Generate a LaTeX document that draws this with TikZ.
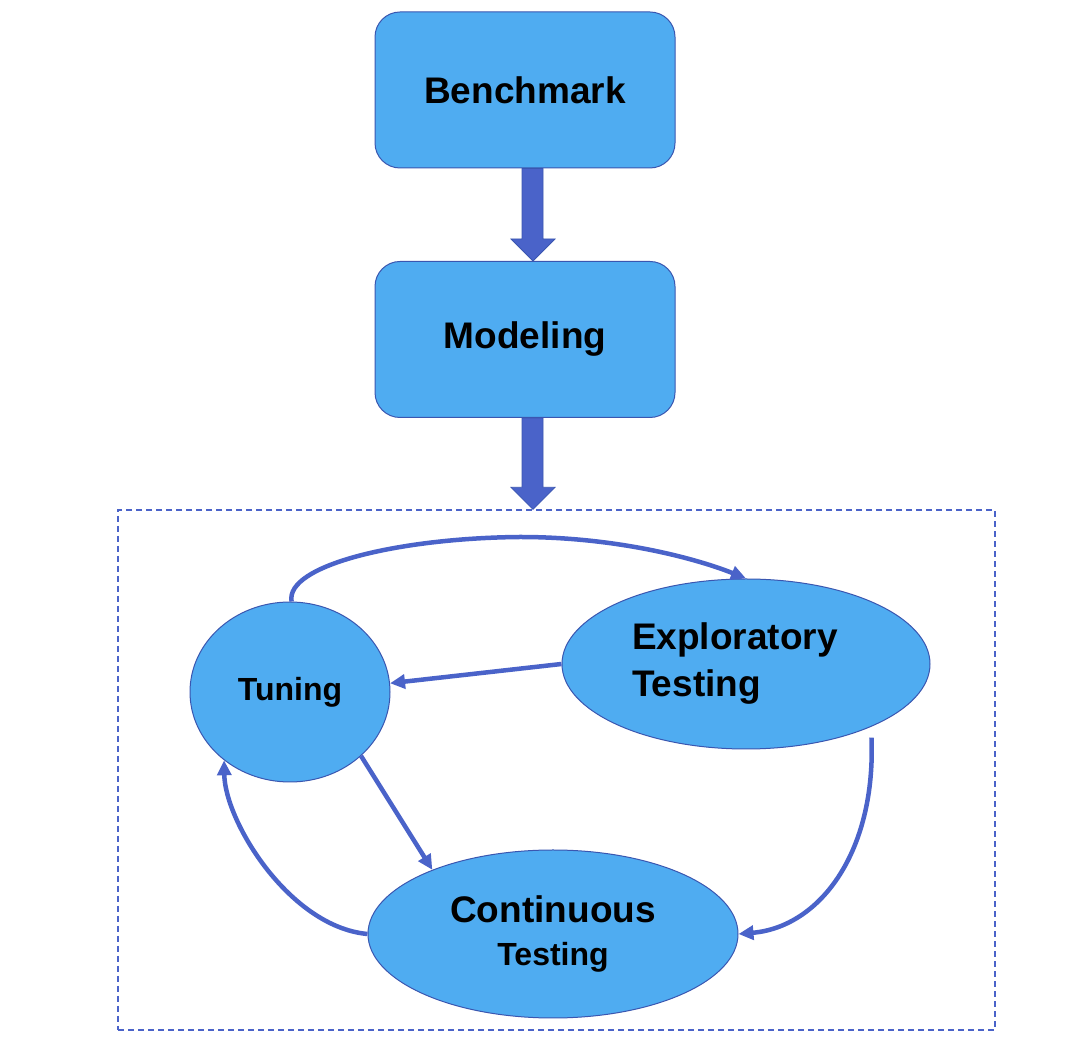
\documentclass[tikz,border=0pt]{standalone}
\usepackage{fontspec}
\setmainfont{Liberation Sans}
\usetikzlibrary{shapes.geometric,arrows.meta,calc}
\definecolor{boxfill}{HTML}{4FACF1}
\definecolor{boxline}{HTML}{3A56B0}
\definecolor{arrowblue}{HTML}{4A63C9}
\begin{document}
\begin{tikzpicture}[x=1pt,y=1pt,
  box/.style={draw=boxline, line width=1pt, fill=boxfill, rounded corners=25pt,
    minimum width=300pt, minimum height=156pt, font=\fontsize{37}{45}\selectfont\bfseries},
  oval/.style={ellipse, draw=boxline, line width=1pt, fill=boxfill, inner sep=0pt, align=center},
  conn/.style={draw=arrowblue, line width=4.5pt, -{Triangle[length=15pt,width=14pt]}},
  blockarrow/.style={fill=arrowblue, draw=boxline, line width=0.8pt},
  frame/.style={draw=arrowblue, line width=1.3pt, dash pattern=on 6pt off 4pt,
    minimum width=877pt, minimum height=520pt, inner sep=0pt}
]
\useasboundingbox (0,0) rectangle (1066,1052);
\fill[white] (0,0) rectangle (1066,1052);

\node[box] (bench) at (525,962) {Benchmark};
\node[box] (model) at (525,712.5) {Modeling};
\node[frame] (frm) at (556.5,282) {};

\node[oval, minimum width=200pt, minimum height=180pt,
  font=\fontsize{32}{38}\selectfont\bfseries] (tun) at (290,360) {Tuning};
\node[oval, minimum width=368pt, minimum height=170pt, align=left, text width=228pt,
  font=\fontsize{37}{47}\selectfont\bfseries] (exp) at (746,388) {Exploratory\\Testing};
\node[oval, minimum width=370pt, minimum height=168pt,
  font=\fontsize{37}{47}\selectfont\bfseries] (con) at (553,118)
  {\raisebox{-4pt}{Continuous}\\{\fontsize{32}{47}\selectfont Testing}};

% block arrows
\draw[blockarrow] ($(bench.south)+(-3,0)$) -- ($(bench.south)+(18,0)$)
  -- ($(model.north)+(18,22)$) -- ($(model.north)+(30,22)$) -- ($(model.north)+(8,0)$)
  -- ($(model.north)+(-14,22)$) -- ($(model.north)+(-3,22)$) -- cycle;
\coordinate (ftop) at ($(model.south |- frm.north)$);
\draw[blockarrow] ($(model.south)+(-3,0)$) -- ($(model.south)+(18,0)$)
  -- ($(ftop)+(18,22)$) -- ($(ftop)+(30,22)$) -- ($(ftop)+(8,0)$)
  -- ($(ftop)+(-14,22)$) -- ($(ftop)+(-3,22)$) -- cycle;

% connectors
\draw[conn] (tun.89) .. controls (285,487) and (400,514) .. (520,515)
  .. controls (620,515) and (700,492) .. (exp.north);
\draw[conn] (exp.west) -- (tun.5);
\draw[conn] (tun.-42) -- (con.152);
\draw[conn] (con.west) .. controls (290,125) and (225,230) .. (tun.226);
\coordinate (e5) at ($(exp.330)+(10,-7)$);
\draw[conn] (e5) .. controls (876,200) and (820,125) .. (con.east);
\end{tikzpicture}
\end{document}
